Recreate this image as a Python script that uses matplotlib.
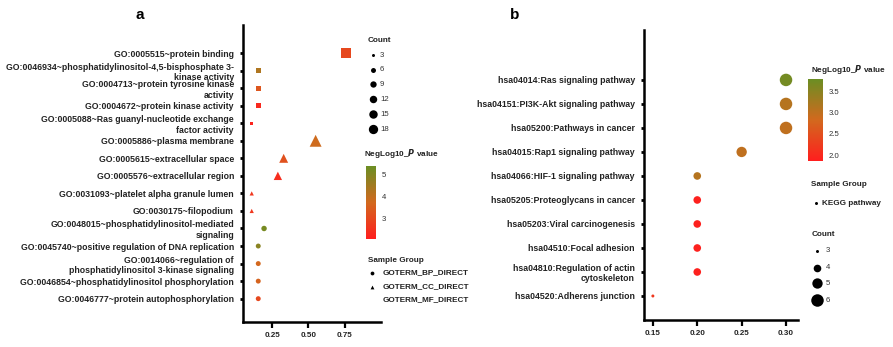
import numpy as np
import matplotlib
matplotlib.use("Agg")
import matplotlib.pyplot as plt
from matplotlib.colors import LinearSegmentedColormap, Normalize

plt.rcParams['font.family'] = ['Liberation Sans', 'DejaVu Sans']
plt.rcParams['font.weight'] = 'bold'

# ---- panel a data (GO terms) ----
go_terms = [
    "GO:0005515~protein binding",
    "GO:0046934~phosphatidylinositol-4,5-bisphosphate 3-\nkinase activity",
    "GO:0004713~protein tyrosine kinase\nactivity",
    "GO:0004672~protein kinase activity",
    "GO:0005088~Ras guanyl-nucleotide exchange\nfactor activity",
    "GO:0005886~plasma membrane",
    "GO:0005615~extracellular space",
    "GO:0005576~extracellular region",
    "GO:0031093~platelet alpha granule lumen",
    "GO:0030175~filopodium",
    "GO:0048015~phosphatidylinositol-mediated\nsignaling",
    "GO:0045740~positive regulation of DNA replication",
    "GO:0014066~regulation of\nphosphatidylinositol 3-kinase signaling",
    "GO:0046854~phosphatidylinositol phosphorylation",
    "GO:0046777~protein autophosphorylation",
]
go_ratio = [0.76, 0.155, 0.155, 0.155, 0.11, 0.55, 0.33, 0.29, 0.11, 0.11,
            0.195, 0.155, 0.155, 0.155, 0.155]
go_count = [20, 6, 6, 6, 3, 15, 9, 8, 3, 3, 7, 6, 6, 6, 6]
go_logp = [3.0, 4.3, 3.3, 2.3, 2.2, 3.8, 3.2, 2.4, 2.6, 2.6, 5.2, 4.9, 3.7, 3.6, 3.0]
go_group = ["MF", "MF", "MF", "MF", "MF", "CC", "CC", "CC", "CC", "CC",
            "BP", "BP", "BP", "BP", "BP"]

# ---- panel b data (KEGG) ----
kegg_terms = [
    "hsa04014:Ras signaling pathway",
    "hsa04151:PI3K-Akt signaling pathway",
    "hsa05200:Pathways in cancer",
    "hsa04015:Rap1 signaling pathway",
    "hsa04066:HIF-1 signaling pathway",
    "hsa05205:Proteoglycans in cancer",
    "hsa05203:Viral carcinogenesis",
    "hsa04510:Focal adhesion",
    "hsa04810:Regulation of actin\ncytoskeleton",
    "hsa04520:Adherens junction",
]
kegg_ratio = [0.30, 0.30, 0.30, 0.25, 0.20, 0.20, 0.20, 0.20, 0.20, 0.15]
kegg_count = [6, 6, 6, 5, 4, 4, 4, 4, 4, 3]
kegg_logp = [3.7, 3.1, 3.0, 3.0, 3.1, 1.9, 1.9, 1.9, 1.9, 2.2]

count_breaks_a = [3, 6, 9, 12, 15, 18]
count_breaks_b = [3, 4, 5, 6]

cmap = LinearSegmentedColormap.from_list("rog", ["#ff1e1e", "#d2691e", "#6b8e23"])
norm_a = Normalize(2.05, 5.4)
norm_b = Normalize(1.86, 3.79)

W, H = 893, 347
fig = plt.figure(figsize=(W / 100, H / 100), dpi=100)


def size_a(c):
    # diameter ~3px at count 3 -> ~9.3px at count 18
    return 0.5184 * (9 + (np.asarray(c) - 3) * 77.5 / 15)


def size_b(c):
    return 0.5184 * (9 + (np.asarray(c) - 3) * 49)


def px_axes(l, t, r, b, **kw):
    return fig.add_axes([l / W, 1 - b / H, (r - l) / W, (b - t) / H], **kw)


def style_axis(ax):
    ax.patch.set_alpha(0)
    for s in ["top", "right"]:
        ax.spines[s].set_visible(False)
    for s in ["left", "bottom"]:
        ax.spines[s].set_linewidth(1.8)
    ax.tick_params(axis="y", length=2.5, width=2, labelsize=6.3, pad=4)
    ax.tick_params(axis="x", length=4, width=1.6, labelsize=5.8, pad=3)
    for lab in ax.get_xticklabels() + ax.get_yticklabels():
        lab.set_fontweight("bold")
        lab.set_color("#222222")


# ---- panel a ----
ax1 = px_axes(243, 25, 381, 322)
marker_of = {"BP": "o", "CC": "^", "MF": "s"}
shape_scale = {"BP": 1.0, "CC": 2.0, "MF": 1.0}
ypos_a = np.arange(len(go_terms))
for grp in ["BP", "CC", "MF"]:
    idx = [i for i, g in enumerate(go_group) if g == grp]
    ax1.scatter(np.array(go_ratio)[idx], ypos_a[idx],
                s=size_a(np.array(go_count)[idx]) * shape_scale[grp],
                c=np.array(go_logp)[idx], cmap=cmap, norm=norm_a,
                marker=marker_of[grp], linewidths=0, zorder=3)
ax1.set_xlim(0.05, 1.0)
ax1.set_ylim(len(go_terms) - 1 + 1.33, -1.6)
ax1.set_yticks(ypos_a)
ax1.set_yticklabels(go_terms)
ax1.set_xticks([0.25, 0.50, 0.75])
ax1.set_xticklabels(["0.25", "0.50", "0.75"])
style_axis(ax1)

# ---- panel b ----
ax2 = px_axes(644, 30, 798, 320)
ypos_b = np.arange(len(kegg_terms))
ax2.scatter(kegg_ratio, ypos_b, s=size_b(kegg_count), c=kegg_logp,
            cmap=cmap, norm=norm_b, marker="o", linewidths=0, zorder=3)
ax2.set_xlim(0.14, 0.3135)
ax2.set_ylim(len(kegg_terms) - 1 + 1.0, -2.08)
ax2.set_yticks(ypos_b)
ax2.set_yticklabels(kegg_terms)
ax2.set_xticks([0.15, 0.20, 0.25, 0.30])
ax2.set_xticklabels(["0.15", "0.20", "0.25", "0.30"])
style_axis(ax2)

# ---- colorbars ----
def add_cbar(l, t, r, b, norm, ticks, fmt):
    cax = px_axes(l, t, r, b)
    sm = plt.cm.ScalarMappable(norm=norm, cmap=cmap)
    cb = fig.colorbar(sm, cax=cax, ticks=ticks)
    cb.outline.set_visible(False)
    cb.ax.tick_params(length=2, width=0.6, color="white", labelsize=5.6, pad=2,
                      labelcolor="#333333")
    cb.ax.set_yticklabels([fmt.format(t) for t in ticks])
    for lab in cb.ax.get_yticklabels():
        lab.set_fontweight("normal")
    return cb

add_cbar(366, 166, 376, 239, norm_a, [3, 4, 5], "{:d}")
add_cbar(808, 79, 823, 161, norm_b, [2.0, 2.5, 3.0, 3.5], "{:.1f}")

# ---- legends drawn on an overlay in pixel space ----
lg = fig.add_axes([0, 0, 1, 1], zorder=5)
lg.set_xlim(0, W)
lg.set_ylim(H, 0)
lg.axis("off")

tkw = dict(fontsize=5.9, fontweight="bold", color="#222222", va="center")
lkw = dict(fontsize=5.6, fontweight="normal", color="#333333", va="center")

# panel letters
fig.text(140 / W, 1 - 15 / H, "a", fontsize=11, fontweight="bold", ha="center", va="center")
fig.text(515 / W, 1 - 15 / H, "b", fontsize=11, fontweight="bold", ha="center", va="center")

# panel a: Count
lg.text(368, 40, "Count", **tkw)
for yy, c in zip([55, 69.5, 84.3, 99.3, 114.3, 129], count_breaks_a):
    lg.scatter(373, yy, s=size_a(c), color="black", linewidths=0)
    lg.text(380, yy, str(c), **lkw)
lg.text(364, 153, r"NegLog10_$\mathit{P}$ value", **tkw)
lg.text(368, 260, "Sample Group", **tkw)
for yy, mk, name in zip([273, 287, 300], ["o", "^", None],
                        ["GOTERM_BP_DIRECT", "GOTERM_CC_DIRECT", "GOTERM_MF_DIRECT"]):
    if mk is not None:
        lg.scatter(372, yy, s=size_a(3) * 1.6, marker=mk, color="black", linewidths=0)
    lg.text(383, yy, name, **tkw)

# panel b
lg.text(811, 69, r"NegLog10_$\mathit{P}$ value", **tkw)
lg.text(811, 184, "Sample Group", **tkw)
lg.scatter(816, 203, s=size_b(3), color="black", linewidths=0)
lg.text(822, 203, "KEGG pathway", **tkw)
lg.text(812, 234, "Count", **tkw)
for yy, c in zip([250.7, 267.7, 283.3, 300], count_breaks_b):
    lg.scatter(817, yy, s=size_b(c), color="black", linewidths=0)
    lg.text(826, yy, str(c), **lkw)

fig.savefig("out.png", dpi=100)
